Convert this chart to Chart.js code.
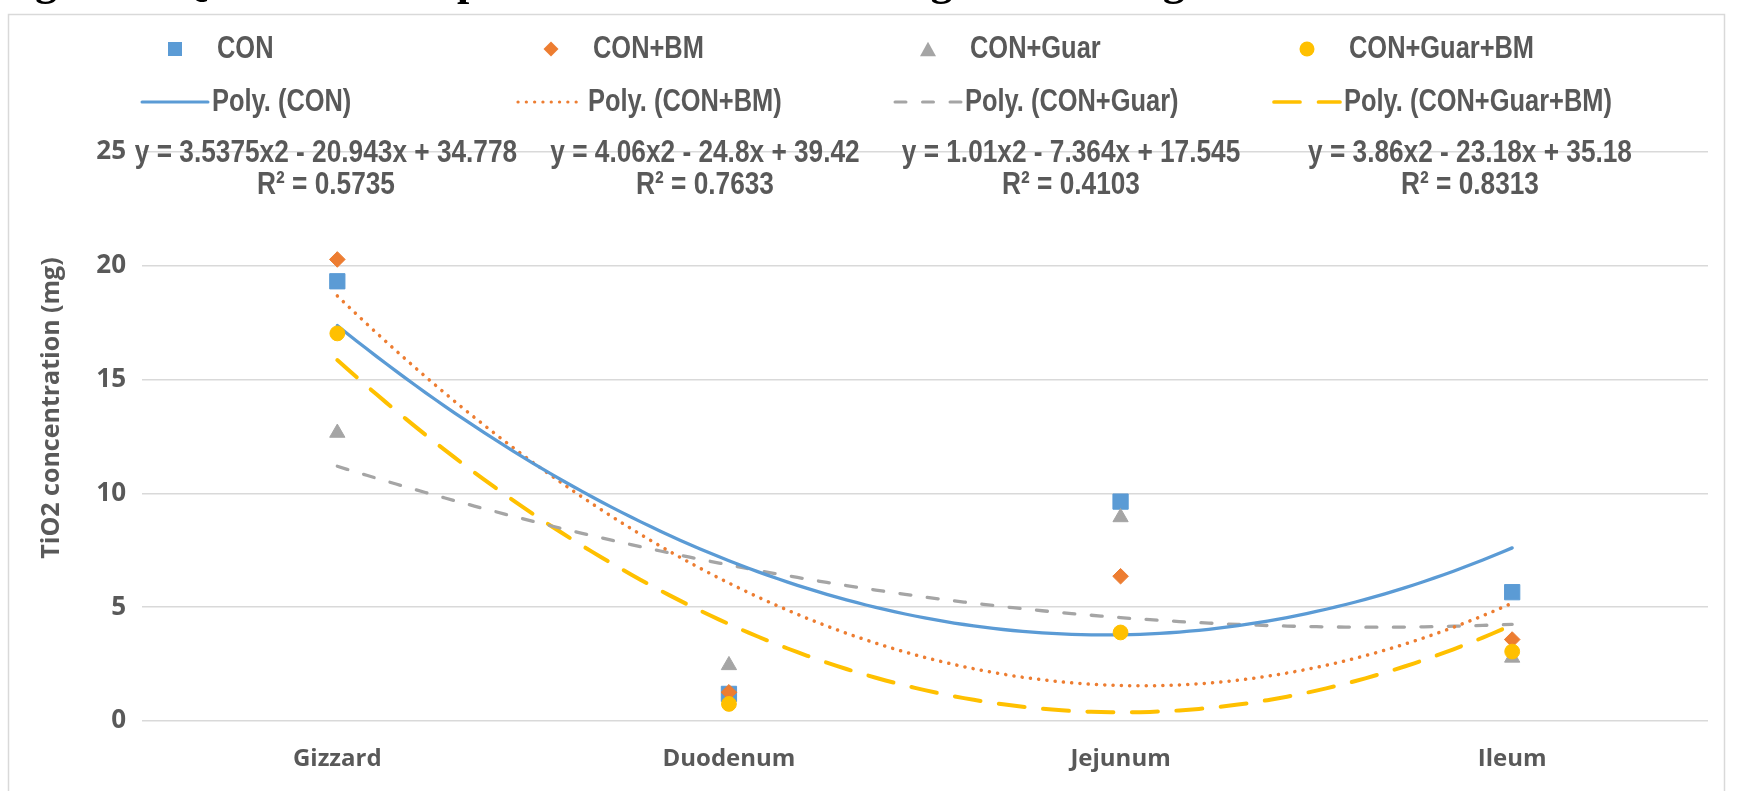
<!DOCTYPE html>
<html>
<head>
<meta charset="utf-8">
<script src="https://cdn.jsdelivr.net/npm/chart.js@4.4.1/dist/chart.umd.min.js"></script>
<style>
  html, body { margin: 0; padding: 0; background: #ffffff; }
  #wrap { width: 1745px; height: 791px; position: relative; }
  canvas { display: block; }
</style>
</head>
<body>
<div id="wrap"><canvas id="chart" width="1745" height="791"></canvas></div>
<script>
// Gut segments along the x axis
const segments = ['Gizzard', 'Duodenum', 'Jejunum', 'Ileum'];
const seriesNames = ['CON', 'CON+BM', 'CON+Guar', 'CON+Guar+BM'];

// TiO2 concentration (mg) per segment
const conValues       = [19.32, 1.19, 9.64, 5.66];
const conBmValues     = [20.28, 1.26, 6.36, 3.58];
const conGuarValues   = [12.66, 2.45, 8.95, 2.78];
const conGuarBmValues = [17.03, 0.75, 3.89, 3.05];

// Second-order trend coefficients [a, b, c] for y = a·x² + b·x + c
const conFit       = [3.5375, -20.943, 34.778];
const conBmFit     = [4.06, -24.8, 39.42];
const conGuarFit   = [1.01, -7.364, 17.545];
const conGuarBmFit = [3.86, -23.18, 35.18];
const rSquared = ['0.5735', '0.7633', '0.4103', '0.8313'];

const yTicks = [0, 5, 10, 15, 20, 25];

const TEXT = '#595959';
const GRID = '#D9D9D9';
const COLORS = ['#5B9BD5', '#ED7D31', '#A5A5A5', '#FFC000'];
const STYLES = ['rect', 'rectRot', 'triangle', 'circle'];
const RADII = [10.8, 7.8, 8.8, 7.4];
const DASHES = [[], [0.1, 8.2], [11, 16.5], [26, 18.5]];
const WIDTHS = [3.3, 3.5, 3.3, 4];

const valueSets = [conValues, conBmValues, conGuarValues, conGuarBmValues];
const fitSets = [conFit, conBmFit, conGuarFit, conGuarBmFit];

// narrow label face (falls back to a horizontally squeezed sans)
function fontAvailable(name) {
  const c = document.createElement('canvas').getContext('2d');
  const s = 'mmmmmmmmmmlli1WQ0123';
  c.font = '40px monospace';
  const a = c.measureText(s).width;
  c.font = '40px "' + name + '", monospace';
  return c.measureText(s).width !== a;
}
const NARROW = fontAvailable('Liberation Sans Narrow');
const SQUEEZE = NARROW ? 1 : 0.82;
function narrowFont(size) {
  return NARROW ? 'bold ' + size + 'px "Liberation Sans Narrow"' : 'bold ' + size + 'px "Liberation Sans"';
}
function squeezedText(ctx, text, x, y, align) {
  ctx.save();
  ctx.translate(x, y);
  ctx.scale(SQUEEZE, 1);
  ctx.textAlign = align;
  ctx.textBaseline = 'middle';
  ctx.fillText(text, 0, 0);
  ctx.restore();
}

function quadCurve(coef) {
  const pts = [];
  const n = 120;
  for (let i = 0; i <= n; i++) {
    const x = 1 + (segments.length - 1) * i / n;
    pts.push({ x: x, y: coef[0] * x * x + coef[1] * x + coef[2] });
  }
  return pts;
}
function equationText(coef) {
  const sign = v => (v < 0 ? ' - ' : ' + ');
  return 'y = ' + coef[0] + 'x2' + sign(coef[1]) + Math.abs(coef[1]) + 'x' + sign(coef[2]) + Math.abs(coef[2]);
}

const datasets = [];
// markers: later series sit on top
seriesNames.forEach((name, i) => {
  datasets.push({
    type: 'scatter',
    label: name,
    data: valueSets[i].map((v, k) => ({ x: k + 1, y: v })),
    pointStyle: STYLES[i],
    pointRadius: RADII[i],
    pointHoverRadius: RADII[i],
    backgroundColor: COLORS[i],
    borderColor: COLORS[i],
    pointBorderWidth: 1,
    order: 3 - i
  });
});
// trend curves
seriesNames.forEach((name, i) => {
  datasets.push({
    type: 'line',
    label: 'Poly. (' + name + ')',
    data: quadCurve(fitSets[i]),
    borderColor: COLORS[i],
    borderWidth: WIDTHS[i],
    borderDash: DASHES[i],
    borderCapStyle: 'round',
    pointRadius: 0,
    fill: false,
    tension: 0,
    order: 10 + i
  });
});

function drawMarker(ctx, style, x, y, s, color) {
  ctx.save();
  ctx.fillStyle = color;
  ctx.beginPath();
  if (style === 'rect') {
    ctx.rect(x - s / 2, y - s / 2, s, s);
  } else if (style === 'rectRot') {
    ctx.moveTo(x, y - s / 2); ctx.lineTo(x + s / 2, y); ctx.lineTo(x, y + s / 2); ctx.lineTo(x - s / 2, y);
  } else if (style === 'triangle') {
    const h = s * 0.9;
    ctx.moveTo(x, y - h / 2); ctx.lineTo(x + s / 2, y + h / 2); ctx.lineTo(x - s / 2, y + h / 2);
  } else {
    ctx.arc(x, y, s / 2, 0, Math.PI * 2);
  }
  ctx.closePath();
  ctx.fill();
  ctx.restore();
}

const decorations = {
  id: 'decorations',
  beforeDraw(chart) {
    const ctx = chart.ctx;
    ctx.save();
    ctx.fillStyle = '#ffffff';
    ctx.fillRect(0, 0, chart.width, chart.height);
    // caption line running off the top edge
    ctx.fillStyle = '#000000';
    ctx.font = 'bold 44px "Liberation Serif"';
    ctx.textAlign = 'left';
    ctx.textBaseline = 'alphabetic';
    ctx.fillText('Figure 3. Quadratic comparison of TiO2 between gizzard and gut', -4, -5);
    // chart frame
    ctx.strokeStyle = GRID;
    ctx.lineWidth = 1.5;
    ctx.strokeRect(8.5, 14.5, 1716, 820);
    ctx.restore();
  },
  afterDatasetsDraw(chart) {
    const ctx = chart.ctx;
    const eqX = [326, 705, 1071, 1470];
    ctx.save();
    ctx.fillStyle = TEXT;
    ctx.font = narrowFont(32);
    fitSets.forEach((coef, i) => {
      squeezedText(ctx, equationText(coef), eqX[i], 153, 'center');
      squeezedText(ctx, 'R\u00B2 = ' + rSquared[i], eqX[i], 185, 'center');
    });
    ctx.restore();
  },
  afterDraw(chart) {
    const ctx = chart.ctx;
    const colX = [175, 551, 928, 1307];
    const markerSize = [14, 15, 16, 15];
    const row1 = 49, row2 = 102;
    ctx.save();
    ctx.fillStyle = TEXT;
    ctx.font = narrowFont(31);
    seriesNames.forEach((name, i) => {
      drawMarker(ctx, STYLES[i], colX[i], row1, markerSize[i], COLORS[i]);
      ctx.fillStyle = TEXT;
      squeezedText(ctx, name, colX[i] + 42, row1, 'left');
      ctx.save();
      ctx.strokeStyle = COLORS[i];
      ctx.lineWidth = WIDTHS[i] - 0.3;
      ctx.lineCap = 'round';
      ctx.setLineDash(DASHES[i]);
      ctx.beginPath();
      ctx.moveTo(colX[i] - 33, row2);
      ctx.lineTo(colX[i] + 33, row2);
      ctx.stroke();
      ctx.restore();
      ctx.fillStyle = TEXT;
      squeezedText(ctx, 'Poly. (' + name + ')', colX[i] + 37, row2, 'left');
    });
    // vertical axis title
    ctx.save();
    ctx.translate(52, 408);
    ctx.rotate(-Math.PI / 2);
    ctx.font = 'bold 25px "Open Sans"';
    ctx.fillStyle = TEXT;
    ctx.textAlign = 'center';
    ctx.textBaseline = 'middle';
    ctx.fillText('TiO2 concentration (mg)', 0, 0);
    ctx.restore();
    ctx.restore();
  }
};

new Chart(document.getElementById('chart'), {
  type: 'scatter',
  data: { datasets: datasets },
  options: {
    responsive: false,
    animation: false,
    events: [],
    layout: { padding: { left: 0, right: 37, top: 152, bottom: 0 } },
    plugins: { legend: { display: false }, tooltip: { enabled: false }, title: { display: false } },
    scales: {
      x: {
        type: 'linear',
        min: 0.5,
        max: segments.length + 0.5,
        afterBuildTicks: s => { s.ticks = segments.map((_, i) => ({ value: i + 1 })); },
        afterFit: s => { s.height = 70; },
        grid: { display: false, drawTicks: false },
        border: { display: false },
        ticks: {
          padding: 24,
          color: TEXT,
          font: { family: 'Open Sans', size: 24, weight: 'bold' },
          callback: v => segments[v - 1]
        }
      },
      y: {
        min: yTicks[0],
        max: yTicks[yTicks.length - 1],
        afterBuildTicks: s => { s.ticks = yTicks.map(v => ({ value: v })); },
        afterFit: s => { s.width = 141.5; },
        grid: { color: GRID, lineWidth: 1.6, drawTicks: false },
        border: { display: false },
        ticks: {
          padding: 15.5,
          color: TEXT,
          font: { family: 'Open Sans', size: 26, weight: 'bold' }
        }
      }
    }
  },
  plugins: [decorations]
});
</script>
</body>
</html>
